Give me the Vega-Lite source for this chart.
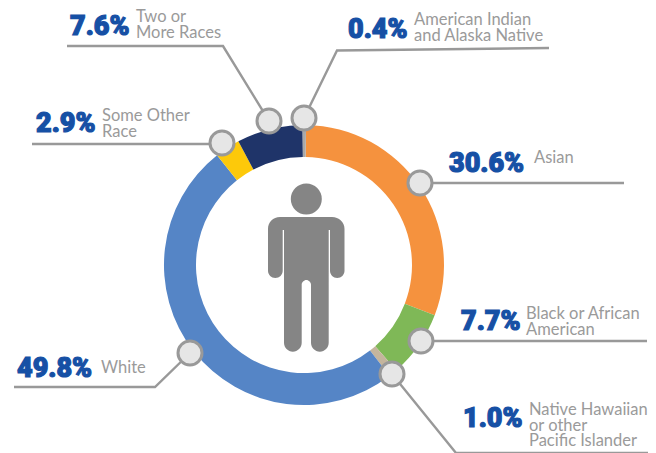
{
"$schema":"https://vega.github.io/schema/vega-lite/v6.json",
"width":656,"height":453,"padding":0,"autosize":"none","background":"white",
"config":{"view":{"stroke":null}},
"datasets":{
"shares":[
{"category":"Asian","share":30.6,"rank":1},
{"category":"Black or African American","share":7.7,"rank":2},
{"category":"Native Hawaiian or other Pacific Islander","share":1.0,"rank":3},
{"category":"White","share":49.8,"rank":4},
{"category":"Some Other Race","share":2.9,"rank":5},
{"category":"Two or More Races","share":7.6,"rank":6},
{"category":"American Indian and Alaska Native","share":0.4,"rank":7}],
"leaders":[
{"id":"two","s":1,"x":67,"y":46},{"id":"two","s":2,"x":223,"y":46},{"id":"two","s":3,"x":269,"y":121},
{"id":"other","s":1,"x":32,"y":144},{"id":"other","s":2,"x":222,"y":144},
{"id":"aian","s":1,"x":549,"y":48},{"id":"aian","s":2,"x":337,"y":50.5},{"id":"aian","s":3,"x":304,"y":118},
{"id":"asian","s":1,"x":420,"y":183},{"id":"asian","s":2,"x":624,"y":183},
{"id":"black","s":1,"x":421,"y":341},{"id":"black","s":2,"x":647,"y":341},
{"id":"nhpi","s":1,"x":392,"y":374},{"id":"nhpi","s":2,"x":456,"y":453},{"id":"nhpi","s":3,"x":648,"y":453},
{"id":"white","s":1,"x":190,"y":353},{"id":"white","s":2,"x":155,"y":387},{"id":"white","s":3,"x":14,"y":387}],
"anchors":[
{"x":269,"y":121},{"x":304,"y":118},{"x":222,"y":143},{"x":420,"y":183},{"x":421,"y":341},{"x":392,"y":374},{"x":190,"y":353}],
"labels":[
{"pct":"7.6%","px":70,"py":35,"name":"Two or\nMore Races","nx":136,"ny":22},
{"pct":"2.9%","px":36,"py":132,"name":"Some Other\nRace","nx":102,"ny":121},
{"pct":"0.4%","px":348,"py":38,"name":"American Indian\nand Alaska Native","nx":414,"ny":25},
{"pct":"30.6%","px":449,"py":172,"name":"Asian","nx":534,"ny":163},
{"pct":"7.7%","px":461,"py":330,"name":"Black or African\nAmerican","nx":526,"ny":319},
{"pct":"1.0%","px":463,"py":427,"name":"Native Hawaiian\nor other\nPacific Islander","nx":529,"ny":415},
{"pct":"49.8%","px":17,"py":377,"name":"White","nx":101,"ny":373}]
},
"layer":[
{"data":{"name":"shares"},
 "mark":{"type":"arc","radius":140,"radius2":108},
 "encoding":{
  "x":{"datum":304,"type":"quantitative","scale":{"domain":[0,656],"nice":false,"zero":false},"axis":null},
  "y":{"datum":265,"type":"quantitative","scale":{"domain":[0,453],"nice":false,"zero":false,"reverse":true},"axis":null},
  "theta":{"field":"share","type":"quantitative","stack":true,"scale":{"domain":[0,100],"range":[0.015,6.298]}},
  "order":{"field":"rank","type":"ordinal"},
  "color":{"field":"category","type":"nominal","legend":null,"scale":{
   "domain":["Asian","Black or African American","Native Hawaiian or other Pacific Islander","White","Some Other Race","Two or More Races","American Indian and Alaska Native"],
   "range":["#F5923E","#7FB857","#C4B59D","#5585C6","#FDC90A","#1F3469","#A9A9A9"]}}}},
{"data":{"name":"leaders"},
 "mark":{"type":"line","stroke":"#999999","strokeWidth":2.4,"strokeJoin":"miter"},
 "encoding":{
  "x":{"field":"x","type":"quantitative","axis":null},
  "y":{"field":"y","type":"quantitative","axis":null},
  "detail":{"field":"id"},
  "order":{"field":"s","type":"quantitative"}}},
{"data":{"name":"anchors"},
 "mark":{"type":"point","shape":"circle","filled":true,"fill":"#E6E6E6","stroke":"#999999","strokeWidth":3,"size":576,"opacity":1},
 "encoding":{
  "x":{"field":"x","type":"quantitative","axis":null},
  "y":{"field":"y","type":"quantitative","axis":null}}},
{"data":{"values":[{"part":"head","x":306.3,"y":199}]},
 "mark":{"type":"point","shape":"circle","filled":true,"fill":"#858585","size":961,"opacity":1},
 "encoding":{
  "x":{"field":"x","type":"quantitative","axis":null},
  "y":{"field":"y","type":"quantitative","axis":null}}},
{"data":{"values":[{"part":"body","x":306,"y":265}]},
 "mark":{"type":"point","filled":true,"fill":"#858585","size":4,"opacity":1,
  "shape":"M-26,-48 L26,-48 C33,-48 38.5,-43 38.5,-36 L38.5,5.75 C38.5,9.75 35.25,13 31.25,13 C27.25,13 24,9.75 24,5.75 L24,-35 L22.7,-35 L22.7,77.85 C22.7,82.74 18.74,86.7 13.85,86.7 C8.96,86.7 5,82.74 5,77.85 L5,19.65 C5,17.4 2.9,15 0.35,15 C-2.2,15 -4.3,17.4 -4.3,19.65 L-4.3,77.85 C-4.3,82.74 -8.26,86.7 -13.15,86.7 C-18.04,86.7 -22,82.74 -22,77.85 L-22,-35 L-23.3,-35 L-23.3,5.75 C-23.3,9.75 -26.6,13 -30.65,13 C-34.7,13 -38,9.75 -38,5.75 L-38,-36 C-38,-43 -33,-48 -26,-48 Z"},
 "encoding":{
  "x":{"field":"x","type":"quantitative","axis":null},
  "y":{"field":"y","type":"quantitative","axis":null}}},
{"data":{"name":"labels"},
 "mark":{"type":"text","align":"left","baseline":"alphabetic","font":"Roboto","fontWeight":900,"fontSize":27,"fill":"#1650A5","stroke":"#1650A5","strokeWidth":1.2},
 "encoding":{
  "x":{"field":"px","type":"quantitative","axis":null},
  "y":{"field":"py","type":"quantitative","axis":null},
  "text":{"field":"pct"}}},
{"data":{"name":"labels"},
 "mark":{"type":"text","align":"left","baseline":"alphabetic","font":"Lato","fontSize":16.5,"fill":"#9A9A9A","lineBreak":"\n","lineHeight":15.6},
 "encoding":{
  "x":{"field":"nx","type":"quantitative","axis":null},
  "y":{"field":"ny","type":"quantitative","axis":null},
  "text":{"field":"name"}}}
]
}
